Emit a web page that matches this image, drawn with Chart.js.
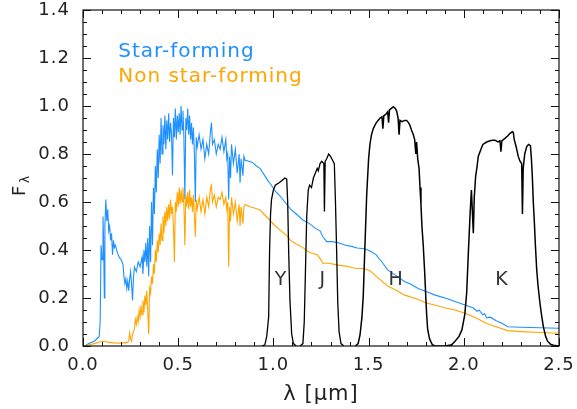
<!DOCTYPE html>
<html>
<head>
<meta charset="utf-8">
<script src="https://cdn.jsdelivr.net/npm/chart.js"></script>
<style>
    body { margin: 0; background: #fff; }
    #wrap { width: 577px; height: 409px; }
</style>
</head>
<body>
<div id="wrap"><canvas id="chart"></canvas></div>
<script>
// spectra: [lambda (um), F_lambda]
var starForming = [
    [0.01,0.0],[0.03,0.01],[0.06,0.02],[0.085,0.04],[0.09,0.10],[0.095,0.42],[0.10,0.36],[0.105,0.54],[0.108,0.45],[0.112,0.20],
    [0.115,0.50],[0.12,0.61],[0.125,0.52],[0.13,0.57],[0.135,0.48],[0.14,0.50],[0.145,0.44],[0.15,0.47],[0.155,0.38],[0.16,0.44],
    [0.165,0.41],[0.17,0.42],[0.18,0.39],[0.19,0.37],[0.20,0.36],[0.21,0.34],[0.215,0.29],[0.22,0.26],[0.225,0.28],[0.23,0.24],
    [0.235,0.27],[0.24,0.23],[0.245,0.28],[0.25,0.31],[0.255,0.26],[0.26,0.19],[0.265,0.28],[0.27,0.33],[0.28,0.31],[0.29,0.35],
    [0.30,0.33],[0.31,0.37],[0.315,0.30],[0.32,0.40],[0.325,0.35],[0.33,0.43],[0.335,0.33],[0.34,0.45],[0.345,0.29],[0.35,0.50],
    [0.355,0.35],[0.36,0.60],[0.365,0.42],[0.37,0.66],[0.375,0.55],[0.38,0.75],[0.385,0.64],[0.39,0.82],[0.395,0.70],[0.40,0.88],
    [0.405,0.76],[0.41,0.95],[0.415,0.80],[0.42,0.92],[0.425,0.84],[0.43,0.96],[0.435,0.82],[0.44,0.94],[0.445,0.86],[0.45,0.97],
    [0.455,0.85],[0.46,0.93],[0.465,0.88],[0.47,0.71],[0.475,0.95],[0.48,0.87],[0.485,0.99],[0.49,0.86],[0.495,0.96],[0.50,0.89],
    [0.505,0.97],[0.51,0.88],[0.515,1.00],[0.52,0.90],[0.525,0.98],[0.53,0.87],[0.535,0.61],[0.54,0.95],[0.545,0.90],[0.55,0.99],
    [0.555,0.88],[0.56,0.96],[0.565,0.86],[0.57,0.93],[0.575,0.84],[0.58,0.91],[0.585,0.80],[0.59,0.60],[0.595,0.87],[0.60,0.83],
    [0.61,0.88],[0.62,0.82],[0.63,0.86],[0.64,0.78],[0.65,0.84],[0.66,0.80],[0.67,0.90],[0.675,0.93],[0.68,0.84],[0.69,0.86],
    [0.70,0.80],[0.71,0.84],[0.72,0.82],[0.73,0.87],[0.74,0.81],[0.75,0.86],[0.755,0.78],[0.76,0.80],[0.765,0.61],[0.77,0.79],
    [0.775,0.70],[0.78,0.84],[0.79,0.76],[0.80,0.82],[0.81,0.72],[0.82,0.80],[0.825,0.68],[0.83,0.78],[0.84,0.71],[0.845,0.79],
    [0.85,0.775],[0.87,0.77],[0.89,0.765],[0.91,0.75],[0.93,0.74],[0.95,0.715],[0.97,0.69],[0.99,0.67],[1.01,0.645],[1.035,0.625],
    [1.06,0.60],[1.09,0.57],[1.12,0.55],[1.155,0.525],[1.19,0.51],[1.22,0.49],[1.245,0.48],[1.26,0.455],[1.28,0.435],[1.31,0.435],
    [1.34,0.43],[1.38,0.42],[1.41,0.415],[1.44,0.408],[1.48,0.405],[1.51,0.395],[1.54,0.38],[1.57,0.35],[1.60,0.317],[1.65,0.29],
    [1.69,0.268],[1.72,0.258],[1.76,0.24],[1.805,0.226],[1.85,0.212],[1.91,0.198],[1.954,0.185],[2.01,0.17],[2.05,0.158],[2.07,0.145],
    [2.08,0.15],[2.10,0.13],[2.11,0.134],[2.12,0.117],[2.14,0.12],[2.17,0.105],[2.20,0.095],[2.23,0.08],[2.30,0.078],[2.40,0.076],
    [2.50,0.074]
];

var nonStarForming = [
    [0.01,0.0],[0.03,0.005],[0.06,0.01],[0.09,0.018],[0.11,0.02],[0.13,0.016],[0.16,0.013],[0.20,0.012],[0.23,0.014],[0.24,0.02],
    [0.245,0.055],[0.25,0.03],[0.255,0.02],[0.26,0.05],[0.27,0.07],[0.275,0.11],[0.28,0.09],[0.285,0.12],[0.29,0.10],[0.295,0.15],
    [0.30,0.12],[0.305,0.17],[0.31,0.13],[0.315,0.19],[0.32,0.14],[0.325,0.21],[0.33,0.17],[0.335,0.23],[0.34,0.15],[0.345,0.05],
    [0.35,0.24],[0.355,0.22],[0.36,0.29],[0.365,0.26],[0.37,0.34],[0.375,0.30],[0.38,0.40],[0.385,0.35],[0.39,0.44],[0.395,0.39],
    [0.40,0.47],[0.405,0.42],[0.41,0.51],[0.415,0.44],[0.42,0.54],[0.425,0.47],[0.43,0.56],[0.435,0.50],[0.44,0.58],[0.445,0.52],
    [0.45,0.59],[0.455,0.53],[0.46,0.61],[0.465,0.55],[0.47,0.58],[0.475,0.50],[0.48,0.35],[0.485,0.60],[0.49,0.56],[0.495,0.64],
    [0.50,0.58],[0.505,0.66],[0.51,0.59],[0.515,0.65],[0.52,0.60],[0.525,0.66],[0.53,0.59],[0.535,0.42],[0.54,0.63],[0.545,0.58],
    [0.55,0.64],[0.555,0.57],[0.56,0.65],[0.565,0.58],[0.57,0.62],[0.575,0.56],[0.58,0.63],[0.59,0.455],[0.595,0.61],[0.60,0.57],
    [0.61,0.62],[0.62,0.56],[0.63,0.61],[0.64,0.55],[0.65,0.62],[0.66,0.58],[0.67,0.66],[0.675,0.67],[0.68,0.60],[0.69,0.63],
    [0.70,0.58],[0.71,0.62],[0.72,0.61],[0.73,0.64],[0.74,0.59],[0.75,0.62],[0.755,0.57],[0.76,0.60],[0.765,0.33],[0.77,0.58],
    [0.775,0.52],[0.78,0.62],[0.79,0.55],[0.80,0.60],[0.81,0.52],[0.82,0.59],[0.825,0.50],[0.83,0.58],[0.84,0.51],[0.845,0.58],
    [0.85,0.59],[0.877,0.58],[0.90,0.575],[0.93,0.567],[0.95,0.55],[0.98,0.525],[1.01,0.50],[1.035,0.483],[1.07,0.46],[1.09,0.44],
    [1.12,0.425],[1.155,0.41],[1.19,0.39],[1.23,0.38],[1.245,0.365],[1.26,0.345],[1.29,0.345],[1.34,0.337],[1.38,0.333],[1.43,0.324],
    [1.48,0.322],[1.51,0.312],[1.54,0.29],[1.60,0.25],[1.65,0.23],[1.69,0.212],[1.75,0.197],[1.80,0.18],[1.85,0.17],[1.91,0.157],
    [1.954,0.15],[2.01,0.135],[2.05,0.122],[2.08,0.11],[2.12,0.094],[2.17,0.08],[2.23,0.064],[2.30,0.06],[2.40,0.056],[2.50,0.053]
];

// filter transmission curves
var filterY = [
    [0.94,0.0],[0.955,0.005],[0.965,0.04],[0.975,0.12],[0.98,0.40],[0.985,0.55],[0.99,0.61],[1.0,0.65],[1.01,0.67],[1.03,0.68],
    [1.045,0.69],[1.06,0.70],[1.07,0.695],[1.075,0.60],[1.08,0.40],[1.087,0.19],[1.096,0.05],[1.105,0.01],[1.12,0.0]
];
var filterJ = [
    [1.14,0.0],[1.155,0.01],[1.162,0.10],[1.168,0.30],[1.175,0.54],[1.183,0.65],[1.19,0.67],[1.20,0.66],[1.21,0.70],[1.22,0.72],
    [1.23,0.74],[1.236,0.73],[1.245,0.76],[1.254,0.77],[1.265,0.76],[1.268,0.56],[1.272,0.77],[1.28,0.78],[1.29,0.80],[1.30,0.79],
    [1.31,0.775],[1.32,0.76],[1.326,0.60],[1.332,0.40],[1.338,0.18],[1.345,0.06],[1.355,0.01],[1.37,0.0]
];
var filterH = [
    [1.43,0.0],[1.445,0.01],[1.455,0.046],[1.465,0.12],[1.472,0.21],[1.48,0.40],[1.49,0.63],[1.50,0.78],[1.507,0.84],[1.515,0.88],
    [1.525,0.907],[1.54,0.93],[1.56,0.95],[1.57,0.955],[1.575,0.905],[1.58,0.96],[1.59,0.965],[1.60,0.976],[1.605,0.93],[1.61,0.985],
    [1.62,0.99],[1.63,0.997],[1.64,0.99],[1.647,0.98],[1.655,0.95],[1.66,0.88],[1.665,0.94],[1.675,0.935],[1.69,0.94],[1.70,0.94],
    [1.71,0.93],[1.717,0.92],[1.725,0.90],[1.735,0.88],[1.742,0.86],[1.748,0.80],[1.752,0.85],[1.758,0.78],[1.765,0.74],[1.77,0.66],
    [1.775,0.59],[1.78,0.50],[1.787,0.42],[1.795,0.30],[1.80,0.21],[1.805,0.13],[1.81,0.07],[1.82,0.03],[1.835,0.005],[1.85,0.0],
    [1.90,0.0],[1.94,0.005]
];
var filterK = [
    [1.93,0.0],[1.954,0.02],[1.975,0.04],[1.99,0.067],[2.005,0.13],[2.015,0.22],[2.024,0.39],[2.033,0.55],[2.04,0.65],[2.045,0.56],
    [2.05,0.47],[2.055,0.62],[2.062,0.705],[2.07,0.75],[2.076,0.79],[2.09,0.82],[2.10,0.84],[2.12,0.85],[2.138,0.855],[2.15,0.857],
    [2.164,0.857],[2.18,0.85],[2.19,0.855],[2.195,0.81],[2.20,0.855],[2.216,0.865],[2.23,0.875],[2.243,0.886],[2.255,0.893],[2.26,0.89],
    [2.265,0.86],[2.275,0.83],[2.286,0.79],[2.295,0.77],[2.304,0.76],[2.308,0.55],[2.312,0.74],[2.32,0.80],[2.33,0.83],[2.34,0.84],
    [2.35,0.835],[2.355,0.78],[2.36,0.705],[2.365,0.60],[2.37,0.525],[2.376,0.42],[2.383,0.317],[2.39,0.25],[2.40,0.178],[2.41,0.12],
    [2.418,0.08],[2.43,0.04],[2.44,0.02],[2.455,0.008],[2.47,0.003],[2.50,0.0]
];

var filterNames = ['Y', 'J', 'H', 'K'];
var filterLabelLambda = [1.04, 1.26, 1.645, 2.2];
var filterLabelFlux = 0.275;

var legendNames = ['Star-forming', 'Non star-forming'];
var legendColors = ['#1E90FF', '#FFA500'];

function toPoints(list) {
    var out = [];
    for (var i = 0; i < list.length; i++) {
        out.push({ x: list[i][0], y: list[i][1] });
    }
    return out;
}

function lineSet(label, list, color, width) {
    return {
        label: label,
        data: toPoints(list),
        borderColor: color,
        borderWidth: width,
        pointRadius: 0,
        showLine: true,
        fill: false,
        tension: 0
    };
}

var fontFace = "'DejaVu Sans', sans-serif";

// the original uses a wide plotting font, so open up the letters a bit
var wideText = {
    id: 'wideText',
    beforeLayout: function(chart) { chart.ctx.letterSpacing = '1px'; },
    beforeDraw: function(chart) { chart.ctx.letterSpacing = '1px'; }
};

// IDL style box with inward ticks, filter letters, legend, y title
var idlFrame = {
    id: 'idlFrame',
    afterDatasetsDraw: function(chart) {
        var ctx = chart.ctx;
        var a = chart.chartArea;
        var xs = chart.scales.x;
        var ys = chart.scales.y;
        var i, v, p, len;

        ctx.save();
        ctx.strokeStyle = '#111';
        ctx.lineWidth = 1.2;
        ctx.strokeRect(a.left, a.top, a.right - a.left, a.bottom - a.top);

        ctx.lineWidth = 1;
        ctx.beginPath();
        for (i = 0; i <= 25; i++) {
            v = i * 0.1;
            p = Math.round(xs.getPixelForValue(v)) + 0.5;
            len = (i % 5 == 0) ? 8 : 4;
            ctx.moveTo(p, a.bottom); ctx.lineTo(p, a.bottom - len);
            ctx.moveTo(p, a.top); ctx.lineTo(p, a.top + len);
        }
        for (i = 0; i <= 28; i++) {
            v = i * 0.05;
            p = Math.round(ys.getPixelForValue(v)) + 0.5;
            len = (i % 4 == 0) ? 8 : 4;
            ctx.moveTo(a.left, p); ctx.lineTo(a.left + len, p);
            ctx.moveTo(a.right, p); ctx.lineTo(a.right - len, p);
        }
        ctx.stroke();

        // filter letters
        ctx.fillStyle = '#333';
        ctx.font = '19px ' + fontFace;
        ctx.textAlign = 'center';
        ctx.textBaseline = 'middle';
        for (i = 0; i < filterNames.length; i++) {
            ctx.fillText(filterNames[i], xs.getPixelForValue(filterLabelLambda[i]), ys.getPixelForValue(filterLabelFlux));
        }

        // legend text
        ctx.font = '20px ' + fontFace;
        ctx.textAlign = 'left';
        ctx.textBaseline = 'alphabetic';
        ctx.fillStyle = legendColors[0];
        ctx.fillText(legendNames[0], xs.getPixelForValue(0.185), ys.getPixelForValue(1.204));
        ctx.fillStyle = legendColors[1];
        ctx.fillText(legendNames[1], xs.getPixelForValue(0.185), ys.getPixelForValue(1.10));

        // y axis title F_lambda
        ctx.translate(25, 190);
        ctx.rotate(-Math.PI / 2);
        ctx.fillStyle = '#222';
        ctx.font = '18px ' + fontFace;
        ctx.fillText('F', -6, 0);
        ctx.font = '12px ' + fontFace;
        ctx.fillText('\u03bb', 7, 4);
        ctx.restore();
    }
};

var ctx = document.getElementById('chart').getContext('2d');
var myChart = new Chart(ctx, {
    type: 'scatter',
    data: {
        datasets: [
            lineSet('Y', filterY, '#000', 1.3),
            lineSet('J', filterJ, '#000', 1.3),
            lineSet('H', filterH, '#000', 1.5),
            lineSet('K', filterK, '#000', 1.5),
            lineSet(legendNames[1], nonStarForming, legendColors[1], 1.1),
            lineSet(legendNames[0], starForming, legendColors[0], 1.1)
        ]
    },
    options: {
        responsive: true,
        maintainAspectRatio: false,
        animation: false,
        layout: { padding: { top: 10, right: 18, left: 0, bottom: 0 } },
        plugins: {
            legend: { display: false },
            tooltip: { enabled: false }
        },
        scales: {
            x: {
                type: 'linear',
                min: 0,
                max: 2.5,
                grid: { display: false, drawTicks: false },
                border: { display: false },
                afterFit: function(scale) {
                    scale.height = 63;
                    scale.paddingLeft = 0;
                    scale.paddingRight = 0;
                },
                ticks: {
                    stepSize: 0.5,
                    padding: 9,
                    color: '#222',
                    font: { family: fontFace, size: 18 },
                    maxRotation: 0,
                    callback: function(v) { return Number(v).toFixed(1); }
                },
                title: {
                    display: true,
                    text: '\u03bb [\u03bcm]',
                    color: '#222',
                    font: { family: fontFace, size: 21 },
                    padding: { top: 0, bottom: 2 }
                }
            },
            y: {
                type: 'linear',
                min: 0,
                max: 1.4,
                grid: { display: false, drawTicks: false },
                border: { display: false },
                afterFit: function(scale) {
                    scale.width = 83;
                    scale.paddingTop = 0;
                    scale.paddingBottom = 0;
                },
                ticks: {
                    stepSize: 0.2,
                    padding: 13,
                    color: '#222',
                    font: { family: fontFace, size: 18 },
                    callback: function(v) { return Number(v).toFixed(1); }
                }
            }
        }
    },
    plugins: [wideText, idlFrame]
});
</script>
</body>
</html>
